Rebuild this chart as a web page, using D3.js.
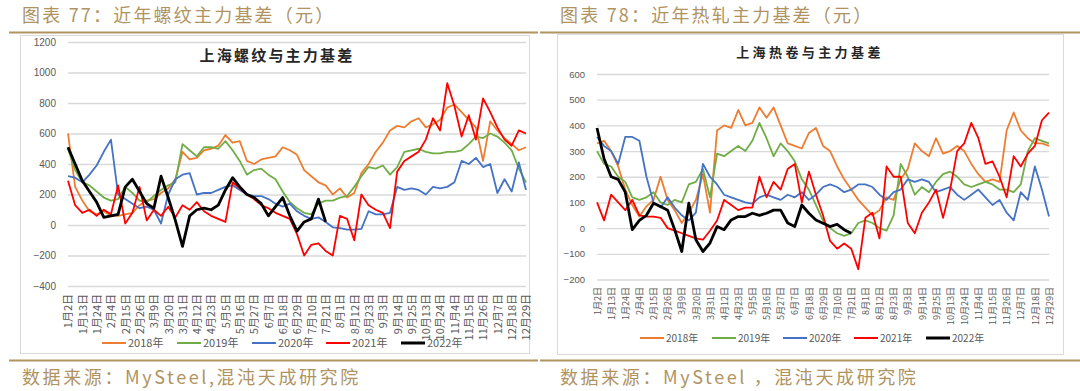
<!DOCTYPE html>
<html>
<head>
<meta charset="utf-8">
<script src="https://cdn.jsdelivr.net/npm/d3@7"></script>
<style>
  body { margin: 0; background: #fff; }
  svg { display: block; }
</style>
</head>
<body>
<svg width="1080" height="391"></svg>
<script>
// tick labels on the category axis (every 8th trading day)
var tickLabels = ["1月2日", "1月13日", "1月24日", "2月4日", "2月15日", "2月26日", "3月9日", "3月20日",
  "3月31日", "4月12日", "4月23日", "5月5日", "5月16日", "5月27日", "6月7日", "6月18日", "6月29日",
  "7月10日", "7月21日", "8月1日", "8月12日", "8月23日", "9月3日", "9月14日", "9月25日", "10月13日",
  "10月24日", "11月4日", "11月15日", "11月26日", "12月7日", "12月18日", "12月29日"];
var years = ["2018年", "2019年", "2020年", "2021年", "2022年"];
var step = 4; // one value every 4 trading days
var lastIndex = 256;

// 上海螺纹与主力基差
var rebar2018 = [600, 250, 160, 90, 70, 90, 60, 60, 70, 80,
  130, 160, 170, 210, 240, 300, 480, 430, 440, 490,
  500, 520, 590, 540, 550, 420, 400, 430, 440, 450,
  510, 490, 460, 360, 320, 280, 260, 200, 240, 180,
  210, 340, 400, 480, 540, 620, 650, 640, 680, 700,
  640, 660, 690, 770, 790, 740, 690, 640, 420, 680,
  620, 570, 530, 490, 510];
var rebar2019 = [500, 360, 280, 260, 220, 180, 160, 170, 250, 210,
  160, 150, 190, 230, 260, 280, 530, 490, 450, 510,
  510, 500, 550, 490, 420, 330, 360, 370, 330, 300,
  220, 150, 110, 80, 70, 140, 160, 160, 180, 190,
  250, 320, 380, 370, 390, 330, 380, 480, 490, 500,
  480, 470, 470, 480, 480, 490, 530, 580, 570, 600,
  580, 540, 490, 370, 280];
var rebar2020 = [320, 310, 280, 330, 390, 480, 560, 200, 170, 140,
  110, 120, 100, 10, 200, 300, 330, 340, 200, 210,
  210, 230, 250, 260, 230, 200, 190, 190, 170, 140,
  120, 140, 90, 60, 40, 50, 20, -15, -20, -30,
  -30, -25, 90, 70, 70, 80, 250, 230, 240, 230,
  200, 250, 240, 250, 280, 420, 400, 440, 380, 400,
  210, 300, 220, 410, 230];
var rebar2021 = [290, 130, 80, 100, 60, 100, 70, 260, 10, 80,
  250, 30, 100, 60, 120, 50, 130, 100, 150, 90,
  60, 40, 20, 280, 240, 200, 170, 130, 110, 80,
  60, 40, -60, -200, -130, -120, -170, -200, 60, 40,
  -100, 200, 130, 100, 80, -20, 350, 420, 450, 480,
  560, 700, 620, 930, 780, 580, 720, 560, 830, 740,
  640, 560, 520, 620, 600];
var rebar2022 = [510, 400, 290, 220, 150, 50, 60, 70, 250, 300,
  220, 140, 110, 320, 180, 30, -140, 60, 100, 110,
  100, 130, 230, 310, 250, 200, 180, 140, 60, 120,
  180, 60, -40, 20, 40, 170, 20];

// 上海热卷与主力基差
var hot2018 = [330, 340, 300, 240, 150, 90, 45, 85, 110, 200,
  110, 70, 20, 60, 110, 210, 60, 380, 400, 390,
  460, 400, 410, 470, 430, 470, 400, 330, 320, 310,
  370, 390, 320, 300, 240, 190, 150, 110, 80, 50,
  70, 120, 110, 190, 230, 330, 300, 280, 350, 290,
  300, 320, 300, 250, 210, 180, 190, 180, 380, 450,
  380, 350, 330, 330, 320];
var hot2019 = [300, 250, 240, 200, 180, 120, 110, 120, 140, 100,
  90, 110, 100, 170, 180, 230, 120, 290, 280, 300,
  320, 300, 340, 410, 350, 280, 330, 300, 260, 190,
  150, 90, 30, 0, -20, -30, -20, 20, 30, 20,
  0, -10, 50, 250, 200, 130, 160, 140, 180, 210,
  220, 200, 170, 160, 170, 180, 170, 150, 150, 140,
  170, 300, 350, 340, 330];
var hot2020 = [355, 320, 300, 250, 355, 355, 340, 200, 100, 80,
  120, 80, 50, 30, 60, 250, 200, 170, 130, 120,
  110, 100, 95, 120, 130, 120, 110, 130, 120, 140,
  110, 130, 160, 170, 160, 140, 150, 170, 170, 160,
  130, 110, 140, 150, 190, 180, 190, 180, 140, 150,
  160, 130, 110, 130, 150, 120, 90, 110, 60, 30,
  140, 110, 240, 150, 45];
var hot2021 = [100, 30, 130, 100, 70, 110, 50, 45, 45, 40,
  0, -10, -20, -30, -40, -45, -10, 30, 110, 90,
  70, 80, 80, 200, 120, 180, 150, 230, 250, 100,
  220, 130, 50, -50, -80, -60, -80, -160, 40, 60,
  -40, 240, 200, 200, 20, -20, 60, 100, 150, 40,
  150, 300, 330, 410, 350, 250, 260, 200, 120, 280,
  240, 290, 320, 420, 450];
var hot2022 = [390, 270, 200, 190, 140, -6, 30, 50, 97, 84,
  70, -6, -91, 97, -45, -91, -58, 6, -6, 32,
  45, 45, 58, 50, 58, 70, 70, 20, 6, 90,
  58, 32, 19, 6, 15, -6, -20];

var colors = ["#ED7D31", "#70AD47", "#4472C4", "#FF0000", "#000000"];
var widths = [1.8, 1.8, 1.8, 1.8, 2.8];
var gold = "#B0935F";

var svg = d3.select("svg");

// headers, rules and sources
var headers = [
  { x: 22, text: "图表 77：近年螺纹主力基差（元）", source: "数据来源：MySteel,混沌天成研究院", x0: 9, x1: 538 },
  { x: 560, text: "图表 78：近年热轧主力基差（元）", source: "数据来源：MySteel ，混沌天成研究院", x0: 540, x1: 1080 }
];
headers.forEach(function (h) {
  svg.append("text").attr("x", h.x).attr("y", 22)
    .attr("font-family", "Noto Sans CJK SC").attr("font-size", 18)
    .attr("letter-spacing", 2.2).attr("fill", gold).text(h.text);
  svg.append("line").attr("x1", h.x0).attr("x2", h.x1).attr("y1", 32.5).attr("y2", 32.5)
    .attr("stroke", gold).attr("stroke-width", 2.2);
  svg.append("line").attr("x1", h.x0).attr("x2", h.x1).attr("y1", 360.5).attr("y2", 360.5)
    .attr("stroke", gold).attr("stroke-width", 2.2);
  svg.append("text").attr("x", h.x).attr("y", 384)
    .attr("font-family", "Noto Sans CJK SC").attr("font-size", 18)
    .attr("letter-spacing", 2.6).attr("fill", gold).text(h.source);
});

function drawChart(c) {
  var g = svg.append("g");

  g.append("rect").attr("x", c.box[0] + 0.5).attr("y", c.box[1] + 0.5)
    .attr("width", c.box[2] - c.box[0]).attr("height", c.box[3] - c.box[1])
    .attr("fill", "#fff").attr("stroke", "#D9D9D9");

  var x = d3.scaleLinear().domain([0, lastIndex]).range([c.x0, c.x1]);
  var y = d3.scaleLinear().domain(c.yDomain).range([c.yBot, c.yTop]);

  // y axis with gridlines
  var yAxis = g.append("g").attr("transform", "translate(" + c.x0 + ",0)")
    .call(d3.axisLeft(y).tickValues(c.yTicks).tickSize(-(c.x1 - c.x0)).tickPadding(12)
      .tickFormat(d3.format("d")));
  yAxis.select(".domain").remove();
  yAxis.selectAll("line").attr("stroke", "#D9D9D9").attr("stroke-width", 1.3);
  yAxis.selectAll("text").attr("fill", "#595959").attr("font-size", c.ySize)
    .attr("font-family", "Liberation Sans, Arial, sans-serif");

  // x axis labels, rotated
  var xAxis = g.append("g").attr("transform", "translate(0," + c.xLabelY + ")")
    .call(d3.axisBottom(x).tickValues(d3.range(0, lastIndex + 1, 8)).tickSize(0)
      .tickFormat(function (d, i) { return tickLabels[i]; }));
  xAxis.select(".domain").remove();
  xAxis.selectAll("text")
    .attr("transform", "rotate(-90)")
    .attr("text-anchor", "end")
    .attr("x", 0).attr("y", 0).attr("dy", "0.35em")
    .attr("fill", "#595959").attr("font-size", c.xSize)
    .attr("font-family", "Noto Sans CJK SC");

  // series
  var line = d3.line()
    .x(function (d, j) { return x(j * step); })
    .y(function (d) { return y(d); });

  g.selectAll(".series")
    .data(c.series)
    .enter()
    .append("path")
    .attr("class", "series")
    .attr("fill", "none")
    .attr("stroke", function (d, i) { return colors[i]; })
    .attr("stroke-width", function (d, i) { return widths[i]; })
    .attr("stroke-linejoin", "round")
    .attr("d", line);

  // title
  g.append("text").attr("x", c.title[0]).attr("y", c.title[1])
    .attr("text-anchor", "middle").attr("font-family", "Noto Sans CJK SC")
    .attr("font-weight", "bold").attr("font-size", c.titleSize)
    .attr("letter-spacing", c.titleSpacing).attr("fill", "#262626").text(c.titleText);

  // legend
  var lg = g.selectAll(".legend").data(years).enter().append("g")
    .attr("transform", function (d, i) { return "translate(" + c.legendX[i] + "," + c.legendY + ")"; });
  lg.append("line").attr("x1", 0).attr("x2", 24).attr("y1", 0).attr("y2", 0)
    .attr("stroke", function (d, i) { return colors[i]; })
    .attr("stroke-width", function (d, i) { return i === 4 ? 3 : 2; });
  lg.append("text").attr("x", 26).attr("y", 0).attr("dy", "0.35em")
    .attr("font-family", "Noto Sans CJK SC").attr("font-size", c.legendSize)
    .attr("fill", "#595959").text(function (d) { return d; });
}

drawChart({
  box: [20, 35, 529, 353],
  x0: 68, x1: 526, yTop: 42, yBot: 286,
  yDomain: [-400, 1200], yTicks: d3.range(-400, 1201, 200),
  ySize: 10, xSize: 11, xLabelY: 294,
  title: [277, 61], titleText: "上海螺纹与主力基差", titleSize: 15, titleSpacing: 2.2,
  legendX: [102, 177, 252, 326, 401], legendY: 343, legendSize: 11,
  series: [rebar2018, rebar2019, rebar2020, rebar2021, rebar2022]
});

drawChart({
  box: [557, 34, 1063, 354],
  x0: 597, x1: 1049, yTop: 74, yBot: 279.5,
  yDomain: [-200, 600], yTicks: d3.range(-200, 601, 100),
  ySize: 9.5, xSize: 9, xLabelY: 287,
  title: [810, 57], titleText: "上海热卷与主力基差", titleSize: 13, titleSpacing: 3.4,
  legendX: [640, 712, 783, 854, 926], legendY: 338, legendSize: 10,
  series: [hot2018, hot2019, hot2020, hot2021, hot2022]
});
</script>
</body>
</html>
